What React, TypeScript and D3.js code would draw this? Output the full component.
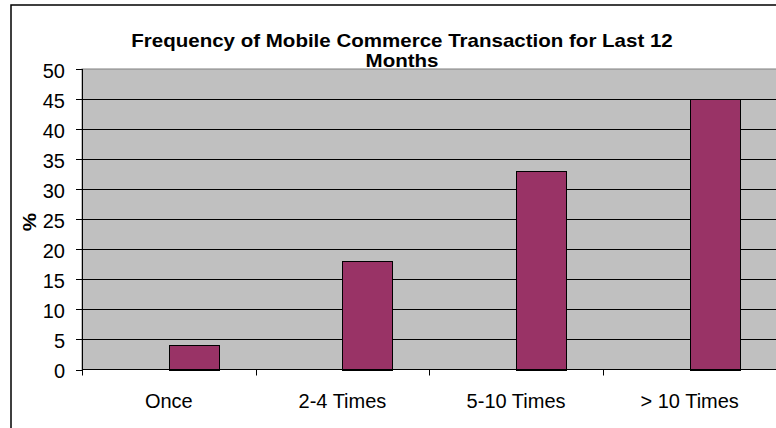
import { useEffect, useRef } from "react";
import * as d3 from "d3";

const categories = ["Once", "2-4 Times", "5-10 Times", "> 10 Times"];
const percentValues = [4, 18, 33, 45];
const yTicks = [0, 5, 10, 15, 20, 25, 30, 35, 40, 45, 50];
const titleLines = ["Frequency of Mobile Commerce Transaction for Last 12", "Months"];

export default function App() {
  const svgRef = useRef<SVGSVGElement>(null);

  useEffect(() => {
    if (!svgRef.current) return;
    const svg = d3.select(svgRef.current);
    svg.selectAll("*").remove();

    const width = 776;
    const height = 428;
    const plot = { left: 82, top: 69, right: 776.5, bottom: 369.5 };
    const font = "Liberation Sans, Arial, sans-serif";

    // outer chart border (right/bottom edges are cropped off)
    svg
      .append("rect")
      .attr("x", 11)
      .attr("y", 5)
      .attr("width", width + 20)
      .attr("height", height + 20)
      .attr("fill", "#fff")
      .attr("stroke", "#000")
      .attr("stroke-width", 1.5);

    const x = d3
      .scaleBand()
      .domain(categories)
      .range([plot.left, plot.right]);

    // Excel-style cluster: two slots per category, gap width 150%
    const slot = x.bandwidth() / 3.5;
    const barOffset = x.bandwidth() / 2;

    const y = d3.scaleLinear().domain([0, 50]).range([plot.bottom, plot.top]);

    // plot background
    svg
      .append("rect")
      .attr("x", plot.left)
      .attr("y", plot.top)
      .attr("width", plot.right - plot.left)
      .attr("height", plot.bottom - plot.top)
      .attr("fill", "#c0c0c0")
      .attr("stroke", "#808080")
      .attr("stroke-width", 1);

    // gridlines
    svg
      .append("g")
      .selectAll("line")
      .data(yTicks.filter((t) => t > 0 && t < 50))
      .join("line")
      .attr("x1", plot.left)
      .attr("x2", plot.right)
      .attr("y1", (d) => Math.round(y(d)) + 0.5)
      .attr("y2", (d) => Math.round(y(d)) + 0.5)
      .attr("stroke", "#000")
      .attr("stroke-width", 1);

    // bars
    svg
      .append("g")
      .selectAll("rect")
      .data(percentValues)
      .join("rect")
      .attr("x", (_, i) => Math.round(x(categories[i])! + barOffset) + 0.5)
      .attr("y", (d) => Math.round(y(d)) + 0.5)
      .attr("width", Math.round(slot))
      .attr("height", (d) => Math.round(y(0)) - Math.round(y(d)))
      .attr("fill", "#993366")
      .attr("stroke", "#000")
      .attr("stroke-width", 1);

    // y axis
    const yAxis = svg.append("g");
    yAxis
      .append("line")
      .attr("x1", plot.left + 0.5)
      .attr("x2", plot.left + 0.5)
      .attr("y1", plot.top)
      .attr("y2", plot.bottom)
      .attr("stroke", "#000");
    yAxis
      .selectAll("line.tick")
      .data(yTicks)
      .join("line")
      .attr("class", "tick")
      .attr("x1", plot.left - 6)
      .attr("x2", plot.left)
      .attr("y1", (d) => Math.round(y(d)) + 0.5)
      .attr("y2", (d) => Math.round(y(d)) + 0.5)
      .attr("stroke", "#000");
    yAxis
      .selectAll("text")
      .data(yTicks)
      .join("text")
      .attr("x", 65)
      .attr("y", (d) => y(d) + 8.5)
      .attr("text-anchor", "end")
      .attr("font-family", font)
      .attr("font-size", "20px")
      .attr("fill", "#000")
      .text((d) => d);

    // x axis
    const xAxis = svg.append("g");
    xAxis
      .append("line")
      .attr("x1", plot.left)
      .attr("x2", plot.right)
      .attr("y1", plot.bottom)
      .attr("y2", plot.bottom)
      .attr("stroke", "#000");
    xAxis
      .selectAll("line.tick")
      .data(categories)
      .join("line")
      .attr("class", "tick")
      .attr("x1", (d) => Math.round(x(d)!) + 0.5)
      .attr("x2", (d) => Math.round(x(d)!) + 0.5)
      .attr("y1", plot.bottom)
      .attr("y2", plot.bottom + 6)
      .attr("stroke", "#000");
    xAxis
      .selectAll("text")
      .data(categories)
      .join("text")
      .attr("x", (d) => x(d)! + x.bandwidth() / 2)
      .attr("y", plot.bottom + 38)
      .attr("text-anchor", "middle")
      .attr("font-family", font)
      .attr("font-size", "20px")
      .attr("fill", "#000")
      .text((d) => d);

    // y axis title
    svg
      .append("text")
      .attr("transform", `translate(36,222) rotate(-90) scale(1.15,1)`)
      .attr("text-anchor", "middle")
      .attr("font-family", font)
      .attr("font-size", "18px")
      .attr("font-weight", "bold")
      .attr("fill", "#000")
      .text("%");

    // chart title
    svg
      .append("g")
      .selectAll("text")
      .data(titleLines)
      .join("text")
      .attr("transform", (_, i) => `translate(402,${47 + i * 20}) scale(1.14,1)`)
      .attr("text-anchor", "middle")
      .attr("font-family", font)
      .attr("font-size", "18px")
      .attr("font-weight", "bold")
      .attr("fill", "#000")
      .text((d) => d);
  }, []);

  return (
    <div style={{ position: "fixed", left: 0, top: 0 }}>
      <svg ref={svgRef} width="776" height="428" style={{ display: "block" }}></svg>
    </div>
  );
}
